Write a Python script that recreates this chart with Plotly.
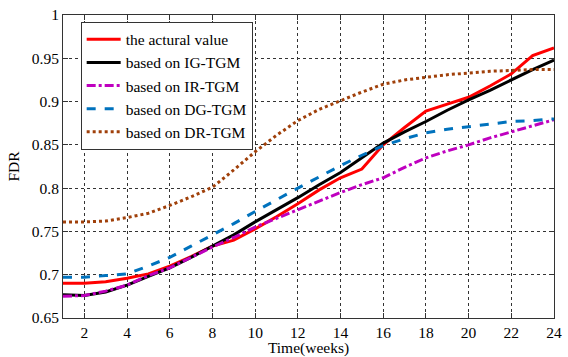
import plotly.graph_objects as go

weeks = list(range(1, 25))
actual = [0.690, 0.690, 0.692, 0.696, 0.701, 0.710, 0.721, 0.733, 0.740, 0.753, 0.767, 0.782,
          0.798, 0.812, 0.822, 0.850, 0.870, 0.889, 0.897, 0.905, 0.918, 0.932, 0.953, 0.962]
ig_tgm = [0.677, 0.676, 0.680, 0.688, 0.698, 0.708, 0.720, 0.733, 0.746, 0.761, 0.775, 0.789,
          0.804, 0.818, 0.835, 0.852, 0.865, 0.877, 0.890, 0.902, 0.913, 0.925, 0.937, 0.948]
ir_tgm = [0.675, 0.676, 0.681, 0.688, 0.699, 0.708, 0.720, 0.732, 0.743, 0.755, 0.765, 0.775,
          0.785, 0.795, 0.804, 0.812, 0.824, 0.835, 0.843, 0.850, 0.858, 0.865, 0.872, 0.879]
dg_tgm = [0.697, 0.697, 0.699, 0.701, 0.710, 0.720, 0.733, 0.746, 0.759, 0.773, 0.787, 0.800,
          0.813, 0.826, 0.838, 0.849, 0.857, 0.864, 0.868, 0.871, 0.874, 0.877, 0.878, 0.880]
dr_tgm = [0.761, 0.761, 0.762, 0.766, 0.771, 0.780, 0.790, 0.801, 0.821, 0.842, 0.861, 0.878,
          0.891, 0.901, 0.911, 0.920, 0.925, 0.928, 0.931, 0.933, 0.935, 0.936, 0.937, 0.937]

series = [
    ("the actural value", actual, "#ff0000", "solid"),
    ("based on IG-TGM", ig_tgm, "#000000", "solid"),
    ("based on IR-TGM", ir_tgm, "#bf00bf", "dashdot"),
    ("based on DG-TGM", dg_tgm, "#0072bd", "dash"),
    ("based on DR-TGM", dr_tgm, "#a0400a", "dot"),
]

x_ticks = list(range(2, 25, 2))
y_ticks = [0.65, 0.7, 0.75, 0.8, 0.85, 0.9, 0.95, 1.0]
y_tick_labels = ["0.65", "0.7", "0.75", "0.8", "0.85", "0.9", "0.95", "1"]

fig = go.Figure()
for name, vals, color, dash in series:
    fig.add_trace(go.Scatter(x=weeks, y=vals, mode="lines", name=name,
                             line=dict(color=color, width=3, dash=dash)))

font = dict(family="Liberation Serif, Times New Roman, serif", size=15.5, color="#000")
axis_common = dict(
    showline=True, linecolor="#333", linewidth=1, mirror="ticks",
    ticks="inside", ticklen=5, tickcolor="#333",
    showgrid=True, gridcolor="#333", griddash="dot", gridwidth=1,
    zeroline=False, tickfont=font, ticklabeloverflow="allow",
)
fig.update_xaxes(range=[1, 24], tickvals=x_ticks,
                 title=dict(text="Time(weeks)", font=font, standoff=0), **axis_common)
fig.update_yaxes(range=[0.65, 1.0], tickvals=y_ticks, ticktext=y_tick_labels,
                 title=dict(text="FDR", font=font, standoff=8), **axis_common)

fig.update_layout(
    width=568, height=357,
    margin=dict(l=63, r=6, t=14, b=37),
    plot_bgcolor="white", paper_bgcolor="white",
    font=font,
    showlegend=True,
    legend=dict(x=0.036, y=0.978, xanchor="left", yanchor="top",
                bgcolor="white", bordercolor="#333", borderwidth=1,
                font=dict(family="Liberation Serif, Times New Roman, serif", size=15.5),
                tracegroupgap=0, itemwidth=34),
)

fig.write_html("out.html", config={"displayModeBar": False},
               post_script="document.body.style.margin='0';document.body.style.overflow='hidden';")
